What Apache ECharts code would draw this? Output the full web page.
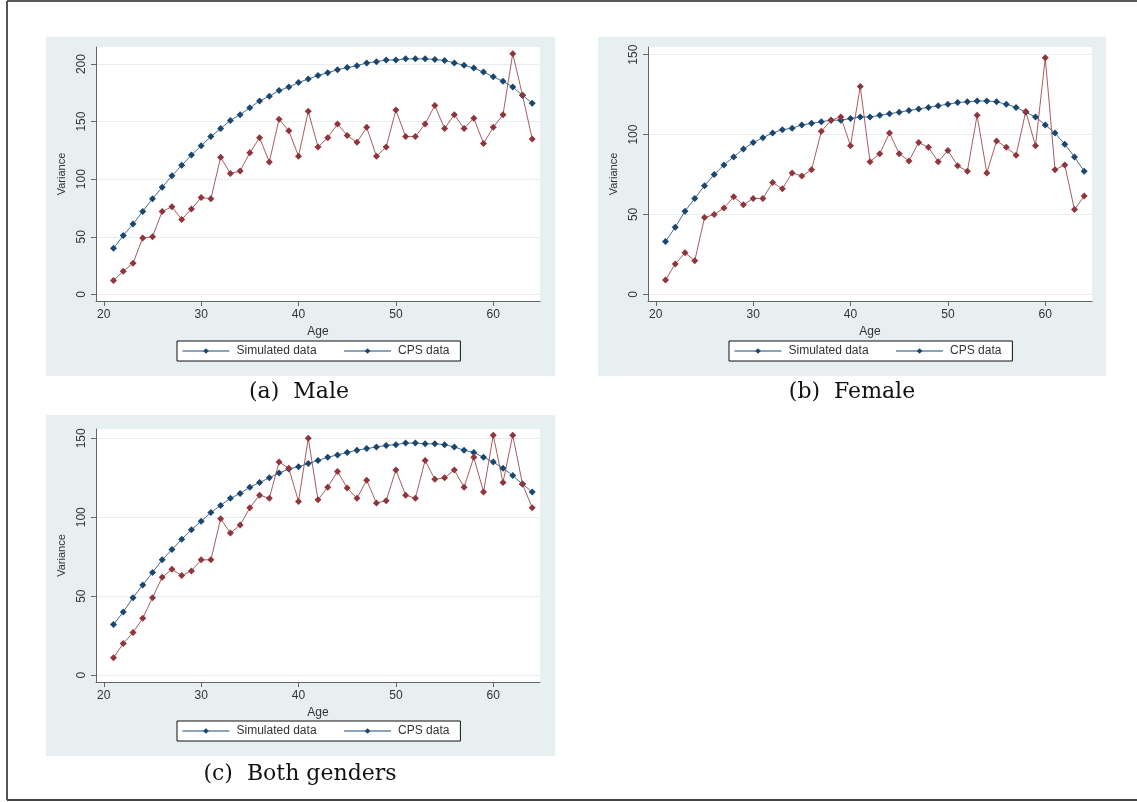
<!DOCTYPE html>
<html>
<head>
<meta charset="utf-8">
<script src="https://cdn.jsdelivr.net/npm/echarts@6/dist/echarts.min.js"></script>
<style>
  html, body { margin: 0; padding: 0; background: #fff; }
  #main { width: 1137px; height: 802px; }
</style>
</head>
<body>
<div id="main"></div>
<script>
// ages on the x axis
const ages = [21, 22, 23, 24, 25, 26, 27, 28, 29, 30, 31, 32, 33, 34, 35, 36, 37, 38, 39, 40, 41, 42,
  43, 44, 45, 46, 47, 48, 49, 50, 51, 52, 53, 54, 55, 56, 57, 58, 59, 60, 61, 62, 63, 64];

// (a) Male
const maleSim = [40, 51, 61, 72, 83, 93, 103, 112, 121, 129, 137, 144, 151, 156, 162, 168, 172, 177, 180, 184, 187, 190,
  192.5, 195, 197, 198.5, 201, 202, 203.5, 203.5, 204.5, 204.5, 204.5, 204, 203, 201, 199, 196.5, 193, 189, 185, 180, 173, 166];
const maleCps = [12, 20, 27, 49, 50, 72, 76, 65, 74, 84, 83, 119, 105, 107, 123, 136, 115, 152, 142, 120, 159, 128,
  136, 148, 138, 132, 145, 120, 128, 160, 137, 137, 148, 164, 144, 156, 144, 153, 131, 145, 156, 209, 173, 135];

// (b) Female
const femaleSim = [33, 42, 52, 60, 68, 75, 81, 86, 91, 95, 98, 101, 103, 104, 106, 107, 108, 109, 109, 110, 111, 111,
  112, 113, 114, 115, 116, 117, 118, 119, 120, 120.5, 121, 121, 120.5, 119, 117, 114, 111, 106, 101, 94, 86, 77];
const femaleCps = [9, 19, 26, 21, 48, 50, 54, 61, 56, 60, 60, 70, 66, 76, 74, 78, 102, 109, 111, 93, 130, 83,
  88, 101, 88, 83.5, 95, 92, 83, 90, 80.5, 77, 112, 76, 96, 92, 87, 114.5, 93, 148, 78, 81, 53, 61.5];

// (c) Both genders
const bothSim = [32, 40, 49, 57, 65, 73, 79.5, 86, 92, 97.5, 103, 107.5, 112, 115, 119, 122, 125, 128, 130.5, 132, 134, 136,
  138, 139.5, 141, 142.5, 143.5, 144.5, 145.5, 146, 147, 147, 146.5, 146.5, 146, 144.5, 142.5, 141, 138, 135, 131, 126.5, 121, 116];
const bothCps = [11, 20, 27, 36, 49, 62, 67, 63, 66, 73, 73, 99, 90, 95, 106, 114, 112, 135, 131, 110, 150, 111,
  119, 129, 118.5, 112, 123.5, 109, 110.5, 130, 114, 112, 136, 124, 125, 130, 119, 138, 116, 152, 122, 152, 121, 106];

const xTicks = [20, 30, 40, 50, 60];
const yTicksMale = [0, 50, 100, 150, 200];
const yTicksOther = [0, 50, 100, 150];

const captions = ['(a)  Male', '(b)  Female', '(c)  Both genders'];
const seriesNames = ['Simulated data', 'CPS data'];

const navy = '#1a476f';
const maroon = '#90353b';
const bgPanel = '#e8eff1';
const axisGray = '#666';
const textGray = '#333';
const sans = 'Liberation Sans, Arial, sans-serif';

const panels = [
  { grid: { left: 96, top: 47, width: 444, height: 254 }, ymin: -5.8, ymax: 214.8, yTicks: yTicksMale,
    sim: maleSim, cps: maleCps, bg: [46, 37, 509, 339], legend: [177, 341], cap: [299, 392] },
  { grid: { left: 648, top: 47, width: 444, height: 254 }, ymin: -4.2, ymax: 154.8, yTicks: yTicksOther,
    sim: femaleSim, cps: femaleCps, bg: [598, 37, 508, 339], legend: [729, 341], cap: [852, 392] },
  { grid: { left: 96, top: 429, width: 444, height: 253 }, ymin: -4.4, ymax: 155.9, yTicks: yTicksOther,
    sim: bothSim, cps: bothCps, bg: [46, 415, 509, 341], legend: [177, 721], cap: [300, 774] }
];

function pairs(vals) {
  return vals.map((v, i) => [ages[i], v]);
}

const myChart = echarts.init(document.getElementById('main'), null, { renderer: 'canvas' });

const option = {
  backgroundColor: '#fff',
  animation: false,
  grid: [],
  xAxis: [],
  yAxis: [],
  legend: [],
  series: [],
  graphic: []
};

// page border (left, top, bottom)
option.graphic.push({ type: 'line', z: 0, shape: { x1: 7, y1: 1, x2: 1137, y2: 1 }, style: { stroke: '#222', lineWidth: 1.5 } });
option.graphic.push({ type: 'line', z: 0, shape: { x1: 7, y1: 1, x2: 7, y2: 800 }, style: { stroke: '#555', lineWidth: 2 } });
option.graphic.push({ type: 'line', z: 0, shape: { x1: 7, y1: 800, x2: 1137, y2: 800 }, style: { stroke: '#444', lineWidth: 2 } });

panels.forEach((p, k) => {
  // panel background
  option.graphic.push({
    type: 'rect', z: -10, silent: true,
    shape: { x: p.bg[0], y: p.bg[1], width: p.bg[2], height: p.bg[3] },
    style: { fill: bgPanel }
  });
  // caption under panel
  option.graphic.push({
    type: 'text', z: 5, x: p.cap[0], y: p.cap[1],
    style: {
      text: captions[k], fill: '#111', align: 'center', verticalAlign: 'middle',
      font: '22px "DejaVu Serif", "Liberation Serif", serif'
    }
  });

  option.grid.push(Object.assign({ show: true, backgroundColor: '#fff', borderWidth: 0 }, p.grid));

  option.xAxis.push({
    type: 'value', gridIndex: k, min: 19.2, max: 64.8,
    name: 'Age', nameLocation: 'middle', nameGap: 25,
    nameTextStyle: { color: textGray, fontFamily: sans, fontSize: 12 },
    axisLine: { show: true, onZero: false, lineStyle: { color: axisGray, width: 1 } },
    axisTick: { show: true, length: 5, customValues: xTicks, lineStyle: { color: axisGray } },
    axisLabel: { customValues: xTicks, color: textGray, fontFamily: sans, fontSize: 12, margin: 8 },
    splitLine: { show: false }
  });

  option.yAxis.push({
    type: 'value', gridIndex: k, min: p.ymin, max: p.ymax,
    name: 'Variance', nameLocation: 'middle', nameGap: 29, nameRotate: 90,
    nameTextStyle: { color: textGray, fontFamily: sans, fontSize: 11 },
    axisLine: { show: true, onZero: false, lineStyle: { color: axisGray, width: 1 } },
    axisTick: { show: true, length: 5, customValues: p.yTicks, lineStyle: { color: axisGray } },
    axisLabel: { customValues: p.yTicks, rotate: 90, color: textGray, fontFamily: sans, fontSize: 12, margin: 8 },
    splitLine: { show: true, lineStyle: { color: '#e6eef0', width: 1 } }
  });

  option.series.push({
    name: seriesNames[0], type: 'line', xAxisIndex: k, yAxisIndex: k,
    data: pairs(p.sim), symbol: 'diamond', symbolSize: 7, showAllSymbol: true,
    itemStyle: { color: navy }, lineStyle: { color: navy, width: 1, opacity: 0.8 }, z: 3
  });
  option.series.push({
    name: seriesNames[1], type: 'line', xAxisIndex: k, yAxisIndex: k,
    data: pairs(p.cps), symbol: 'diamond', symbolSize: 7, showAllSymbol: true,
    itemStyle: { color: maroon }, lineStyle: { color: maroon, width: 1, opacity: 0.8 }, z: 4
  });

  // legend box, both keys drawn in navy as in the original
  option.legend.push({
    left: p.legend[0], top: p.legend[1],
    padding: [4, 11, 4, 5], itemGap: 27, itemWidth: 47, itemHeight: 7,
    borderColor: '#111', borderWidth: 1, backgroundColor: '#fff', selectedMode: false,
    textStyle: { color: textGray, fontFamily: sans, fontSize: 12, padding: [0, 0, 0, 2] },
    data: seriesNames.map(n => ({
      name: n,
      itemStyle: { color: navy }, lineStyle: { color: navy, width: 1, opacity: 1 }
    }))
  });
});

myChart.setOption(option);
window.onresize = function () {
  myChart.resize();
};
</script>
</body>
</html>
